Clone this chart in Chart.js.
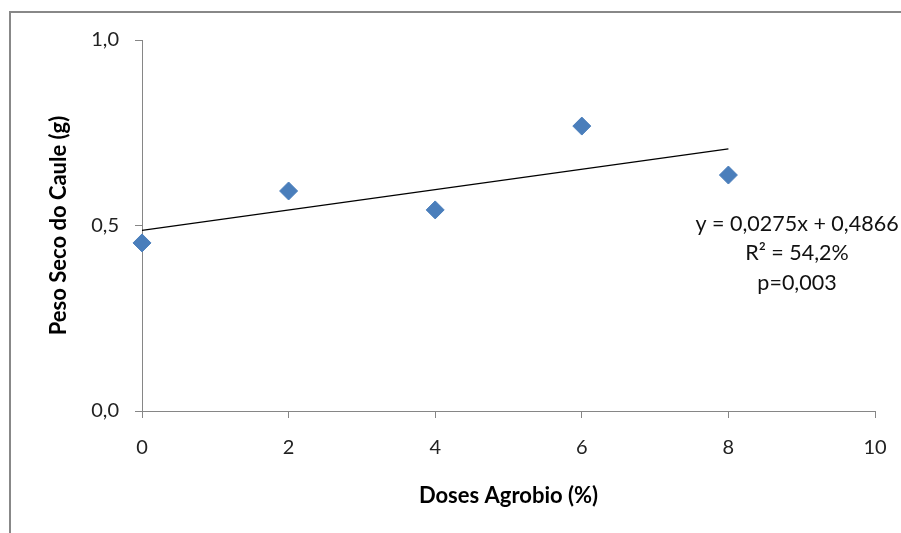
<!DOCTYPE html>
<html>
<head>
<meta charset="utf-8">
<script src="https://cdn.jsdelivr.net/npm/chart.js@4.4.0/dist/chart.umd.min.js"></script>
<style>
  html, body { margin: 0; padding: 0; background: #fff; overflow: hidden; }
  #wrap { position: relative; width: 901px; height: 533px; }
  #frame { position: absolute; left: 9px; top: 11px; width: 920px; height: 560px; border: 2px solid #888; }
  canvas { position: absolute; left: 0; top: 0; }
</style>
</head>
<body>
<div id="wrap">
  <div id="frame"></div>
  <canvas id="chart" width="901" height="533"></canvas>
</div>
<script>
// Data
const doses = [0, 2, 4, 6, 8];
const pesoSeco = [0.453, 0.593, 0.542, 0.768, 0.636];
const trendX = [0, 8];
const trendY = [0.4866, 0.7066];
const xTicks = [0, 2, 4, 6, 8, 10];
const yTicks = [0, 0.5, 1.0];
const notes = ["y = 0,0275x + 0,4866", "R\u00b2 = 54,2%", "p=0,003"];

const FONT = "Lato, 'Open Sans', sans-serif";
const axisGrey = "#868686";

// Equation text on the right
const notesPlugin = {
  id: "notes",
  afterDraw(chart) {
    const ctx = chart.ctx;
    ctx.save();
    ctx.font = "21.5px " + FONT;
    ctx.fillStyle = "#111";
    ctx.textAlign = "center";
    ctx.textBaseline = "middle";
    notes.forEach((t, i) => ctx.fillText(t, 797, 224 + i * 29.5));
    ctx.restore();
  }
};

const ctx = document.getElementById("chart").getContext("2d");
new Chart(ctx, {
  type: "scatter",
  data: {
    datasets: [
      {
        label: "Peso Seco",
        data: doses.map((d, i) => ({ x: d, y: pesoSeco[i] })),
        pointStyle: "rectRot",
        pointRadius: 9,
        pointHoverRadius: 9,
        backgroundColor: "#4a7ebb",
        borderColor: "#4a7ebb",
        borderWidth: 1,
        clip: false
      },
      {
        type: "line",
        label: "Tendência",
        data: trendX.map((d, i) => ({ x: d, y: trendY[i] })),
        borderColor: "#000",
        borderWidth: 1.3,
        pointRadius: 0,
        fill: false,
        clip: false
      }
    ]
  },
  options: {
    responsive: false,
    animation: false,
    layout: { padding: { left: 0, top: 40, right: 26, bottom: 0 } },
    plugins: { legend: { display: false }, tooltip: { enabled: false } },
    scales: {
      x: {
        type: "linear",
        min: 0,
        max: 10,
        afterBuildTicks: s => { s.ticks = xTicks.map(v => ({ value: v })); },
        afterFit: s => { s.height = 122; s.paddingRight = 0; s.paddingLeft = 0; },
        grid: { drawOnChartArea: false, drawTicks: true, tickLength: 7, color: axisGrey },
        border: { color: axisGrey, width: 1 },
        ticks: { font: { family: FONT, size: 20 }, color: "#222", padding: 18 },
        title: {
          display: true,
          text: "Doses Agrobio (%)",
          font: { family: FONT, size: 22, weight: "bold" },
          color: "#000",
          padding: { top: 0, bottom: 24 }
        }
      },
      y: {
        type: "linear",
        min: 0,
        max: 1,
        afterBuildTicks: s => { s.ticks = yTicks.map(v => ({ value: v })); },
        afterFit: s => { s.width = 142; },
        grid: { drawOnChartArea: false, drawTicks: true, tickLength: 7, color: axisGrey },
        border: { color: axisGrey, width: 1 },
        ticks: {
          font: { family: FONT, size: 20 },
          color: "#222",
          padding: 16,
          callback: v => v.toFixed(1).replace(".", ",")
        },
        title: {
          display: true,
          text: "Peso Seco do Caule (g)",
          font: { family: FONT, size: 22, weight: "bold" },
          color: "#000",
          padding: { top: 46, bottom: 0 }
        }
      }
    }
  },
  plugins: [notesPlugin]
});
</script>
</body>
</html>
